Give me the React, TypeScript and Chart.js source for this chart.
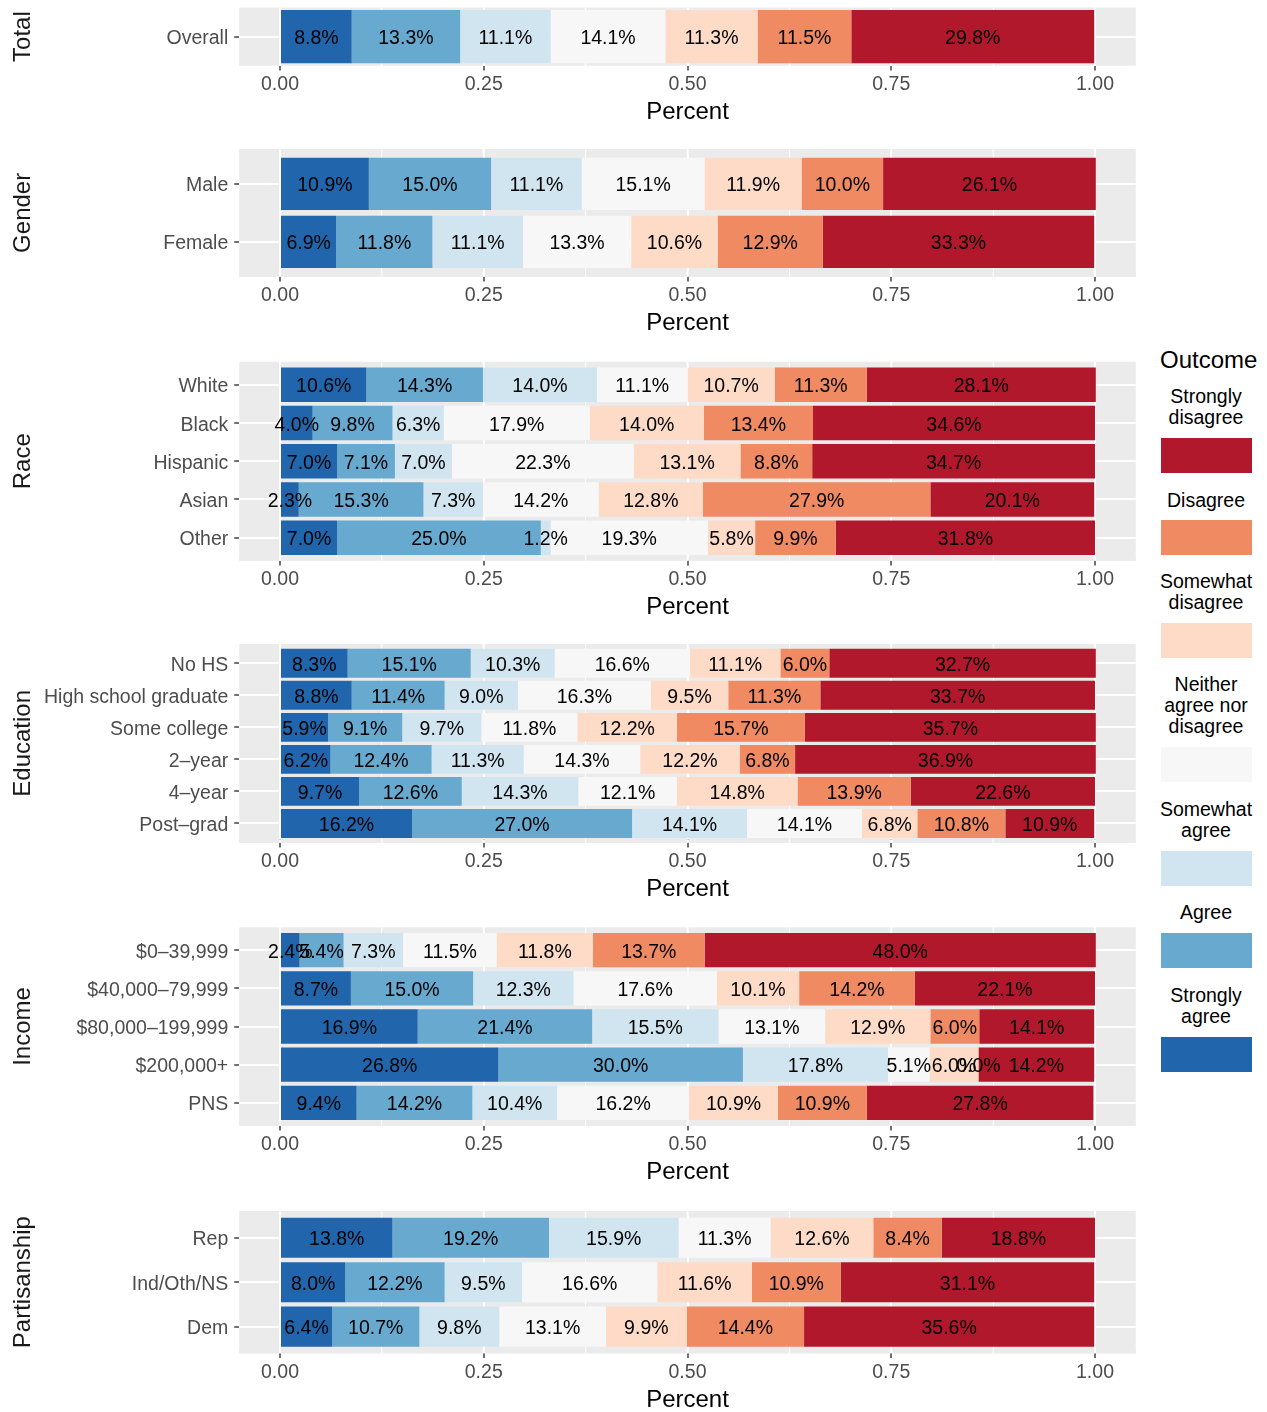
import React, { useEffect, useRef } from 'react';
import { Chart, registerables } from 'chart.js';

Chart.register(...registerables);

const FONT = "'Liberation Sans', Arial, Helvetica, sans-serif";
Chart.defaults.font.family = FONT;

// Outcomes in stacking order (left to right)
const OUTCOMES = ['Strongly agree', 'Agree', 'Somewhat agree', 'Neither agree nor disagree', 'Somewhat disagree', 'Disagree', 'Strongly disagree'];
const OUTCOME_COLORS = ['#2166AC', '#67A9CF', '#D1E5F0', '#F7F7F7', '#FDDBC7', '#EF8A62', '#B2182B'];

// Legend (top to bottom)
const LEGEND_TITLE = 'Outcome';
const legendLines = [['Strongly', 'disagree'], ['Disagree'], ['Somewhat', 'disagree'], ['Neither', 'agree nor', 'disagree'], ['Somewhat', 'agree'], ['Agree'], ['Strongly', 'agree']];
const legendColors = ['#B2182B', '#EF8A62', '#FDDBC7', '#F7F7F7', '#D1E5F0', '#67A9CF', '#2166AC'];

// Data: each row = [SA, A, SomA, Neither, SomD, D, SD] in percent
const totalCategories = ['Overall'];
const totalValues = [[8.8, 13.3, 11.1, 14.1, 11.3, 11.5, 29.8]];

const genderCategories = ['Male', 'Female'];
const genderValues = [
  [10.9, 15.0, 11.1, 15.1, 11.9, 10.0, 26.1],
  [6.9, 11.8, 11.1, 13.3, 10.6, 12.9, 33.3],
];

const raceCategories = ['White', 'Black', 'Hispanic', 'Asian', 'Other'];
const raceValues = [
  [10.6, 14.3, 14.0, 11.1, 10.7, 11.3, 28.1],
  [4.0, 9.8, 6.3, 17.9, 14.0, 13.4, 34.6],
  [7.0, 7.1, 7.0, 22.3, 13.1, 8.8, 34.7],
  [2.3, 15.3, 7.3, 14.2, 12.8, 27.9, 20.1],
  [7.0, 25.0, 1.2, 19.3, 5.8, 9.9, 31.8],
];

const educationCategories = ['No HS', 'High school graduate', 'Some college', '2–year', '4–year', 'Post–grad'];
const educationValues = [
  [8.3, 15.1, 10.3, 16.6, 11.1, 6.0, 32.7],
  [8.8, 11.4, 9.0, 16.3, 9.5, 11.3, 33.7],
  [5.9, 9.1, 9.7, 11.8, 12.2, 15.7, 35.7],
  [6.2, 12.4, 11.3, 14.3, 12.2, 6.8, 36.9],
  [9.7, 12.6, 14.3, 12.1, 14.8, 13.9, 22.6],
  [16.2, 27.0, 14.1, 14.1, 6.8, 10.8, 10.9],
];

const incomeCategories = ['$0–39,999', '$40,000–79,999', '$80,000–199,999', '$200,000+', 'PNS'];
const incomeValues = [
  [2.4, 5.4, 7.3, 11.5, 11.8, 13.7, 48.0],
  [8.7, 15.0, 12.3, 17.6, 10.1, 14.2, 22.1],
  [16.9, 21.4, 15.5, 13.1, 12.9, 6.0, 14.1],
  [26.8, 30.0, 17.8, 5.1, 6.0, 0.0, 14.2],
  [9.4, 14.2, 10.4, 16.2, 10.9, 10.9, 27.8],
];

const partisanCategories = ['Rep', 'Ind/Oth/NS', 'Dem'];
const partisanValues = [
  [13.8, 19.2, 15.9, 11.3, 12.6, 8.4, 18.8],
  [8.0, 12.2, 9.5, 16.6, 11.6, 10.9, 31.1],
  [6.4, 10.7, 9.8, 13.1, 9.9, 14.4, 35.6],
];

const xTickValues = [0, 0.125, 0.25, 0.375, 0.5, 0.625, 0.75, 0.875, 1];
const X_TITLE = 'Percent';

const isMajor = (v: number) => Math.abs(v * 4 - Math.round(v * 4)) < 1e-6;

// Layout of each facet (page pixel geometry)
const PANELS = [
  { name: 'Total', categories: totalCategories, values: totalValues, top: 7.5, bottom: 65.7, e: 0, barPct: 0.916 },
  { name: 'Gender', categories: genderCategories, values: genderValues, top: 149, bottom: 276.7, e: 0.1, barPct: 0.9 },
  { name: 'Race', categories: raceCategories, values: raceValues, top: 361.7, bottom: 560.7, e: 0.1, barPct: 0.9 },
  { name: 'Education', categories: educationCategories, values: educationValues, top: 644, bottom: 842.7, e: 0.1, barPct: 0.9 },
  { name: 'Income', categories: incomeCategories, values: incomeValues, top: 927.3, bottom: 1125.7, e: 0.1, barPct: 0.9 },
  { name: 'Partisanship', categories: partisanCategories, values: partisanValues, top: 1211, bottom: 1353.3, e: 0.1, barPct: 0.9 },
];

const PANEL_LEFT = 239.25;
const PANEL_RIGHT = 1135.75;
const CANVAS_W = 1140;
const TEXT_SHIFT = 2.2;

function Panel({ cfg }: { cfg: any }) {
  const ref = useRef<HTMLCanvasElement | null>(null);
  const n = cfg.categories.length;
  const band = (cfg.bottom - cfg.top) / (n + 2 * cfg.e);
  const ext = cfg.e * band;
  const innerTop = cfg.top + ext;
  const innerBottom = cfg.bottom - ext;
  const canvasTop = Math.floor(innerTop - 22);
  const axisH = ext + 46.8 + 14.4;
  const canvasH = Math.ceil(innerBottom - canvasTop + axisH + 2);
  const padTop = innerTop - canvasTop;
  const padBottom = canvasH - axisH - (innerBottom - canvasTop);

  useEffect(() => {
    if (!ref.current) return;
    const panelPlugin = {
      id: 'panelBg',
      beforeDraw(chart: any) {
        const { ctx, chartArea: a } = chart;
        ctx.save();
        ctx.fillStyle = '#EBEBEB';
        ctx.fillRect(a.left, a.top - ext, a.right - a.left, a.bottom - a.top + 2 * ext);
        ctx.restore();
      },
      beforeDatasetsDraw(chart: any) {
        if (ext <= 0) return;
        const { ctx, chartArea: a } = chart;
        const x = chart.scales.x;
        ctx.save();
        ctx.fillStyle = '#EBEBEB';
        ctx.fillRect(a.left, a.bottom, a.right - a.left, ext);
        ctx.strokeStyle = '#FFFFFF';
        for (const v of xTickValues) {
          const px = x.getPixelForValue(v);
          ctx.lineWidth = isMajor(v) ? 2 : 1;
          ctx.beginPath();
          ctx.moveTo(px, a.top - ext);
          ctx.lineTo(px, a.top);
          ctx.moveTo(px, a.bottom);
          ctx.lineTo(px, a.bottom + ext);
          ctx.stroke();
        }
        ctx.restore();
      },
    };
    const labelPlugin = {
      id: 'segLabels',
      afterDatasetsDraw(chart: any) {
        const ctx = chart.ctx;
        ctx.save();
        ctx.font = `19.5px ${FONT}`;
        ctx.fillStyle = '#000000';
        ctx.textAlign = 'center';
        ctx.textBaseline = 'middle';
        chart.data.datasets.forEach((_ds: any, k: number) => {
          const meta = chart.getDatasetMeta(k);
          meta.data.forEach((el: any, i: number) => {
            const p = el.getProps(['x', 'y', 'base'], true);
            ctx.fillText(cfg.values[i][k].toFixed(1) + '%', (p.x + p.base) / 2, p.y + TEXT_SHIFT);
          });
        });
        ctx.restore();
      },
    };

    const chart = new Chart(ref.current, {
      type: 'bar',
      data: {
        labels: cfg.categories,
        datasets: OUTCOMES.map((o, k) => ({
          label: o,
          data: cfg.values.map((r: number[]) => r[k] / 100),
          backgroundColor: OUTCOME_COLORS[k],
          borderWidth: 0,
          barPercentage: cfg.barPct,
          categoryPercentage: 1,
        })),
      },
      options: {
        indexAxis: 'y',
        animation: false,
        responsive: false,
        devicePixelRatio: 1,
        layout: { padding: { top: padTop, bottom: padBottom, left: 0, right: CANVAS_W - PANEL_RIGHT } },
        plugins: { legend: { display: false }, tooltip: { enabled: false } },
        scales: {
          x: {
            type: 'linear',
            stacked: true,
            min: -0.05,
            max: 1.05,
            afterBuildTicks: (s: any) => { s.ticks = xTickValues.map((v) => ({ value: v })); },
            afterFit: (s: any) => { s.height = axisH; },
            ticks: {
              autoSkip: false,
              maxRotation: 0,
              minRotation: 0,
              padding: 2.5,
              color: '#4D4D4D',
              font: { size: 19.5 },
              callback: (v: any) => (isMajor(Number(v)) ? Number(v).toFixed(2) : ''),
            },
            grid: {
              color: '#FFFFFF',
              lineWidth: (c: any) => (c.tick && isMajor(c.tick.value) ? 2 : 1),
              tickLength: ext + 4.8,
              tickColor: (c: any) => (c.tick && isMajor(c.tick.value) ? '#333333' : 'rgba(0,0,0,0)'),
              tickWidth: 1.4,
            },
            border: { display: false },
            title: { display: true, text: X_TITLE, color: '#000000', font: { size: 24 }, padding: 0 },
          },
          y: {
            type: 'category',
            stacked: true,
            offset: true,
            afterFit: (s: any) => { s.width = PANEL_LEFT; },
            ticks: { autoSkip: false, padding: 6, labelOffset: TEXT_SHIFT, color: '#4D4D4D', font: { size: 19.5 } },
            grid: { offset: false, color: '#FFFFFF', lineWidth: 2, tickLength: 5, tickColor: '#333333', tickWidth: 1.4 },
            border: { display: false },
            title: { display: true, text: cfg.name, color: '#1A1A1A', font: { size: 24 }, padding: { top: 8.8, bottom: 0 } },
          },
        },
      } as any,
      plugins: [panelPlugin, labelPlugin],
    });
    return () => chart.destroy();
  }, []);

  return (
    <canvas
      ref={ref}
      width={CANVAS_W}
      height={canvasH}
      style={{ position: 'absolute', left: 0, top: canvasTop, width: CANVAS_W, height: canvasH }}
    />
  );
}

const legendKeyTops = [437.7, 520, 622.7, 746.7, 850.7, 932.7, 1036.7];

function Legend() {
  const lineH = 21;
  const items: any[] = [];
  legendLines.forEach((lines, i) => {
    const keyTop = legendKeyTops[i];
    const lastCenter = keyTop - 20;
    lines.forEach((t, j) => {
      const c = lastCenter - (lines.length - 1 - j) * lineH;
      items.push(
        <div key={`l${i}-${j}`} style={{ position: 'absolute', left: 1146, width: 120, top: c - lineH / 2, height: lineH, lineHeight: `${lineH}px`, fontSize: 19.5, textAlign: 'center', color: '#000', whiteSpace: 'nowrap' }}>{t}</div>
      );
    });
    items.push(
      <div key={`k${i}`} style={{ position: 'absolute', left: 1161, top: keyTop, width: 90.7, height: 35, background: legendColors[i] }} />
    );
  });
  return (
    <>
      <div style={{ position: 'absolute', left: 1160, top: 359.5 - 14, height: 28, lineHeight: '28px', fontSize: 24, color: '#000', whiteSpace: 'nowrap' }}>{LEGEND_TITLE}</div>
      {items}
    </>
  );
}

export default function App() {
  return (
    <div style={{ position: 'absolute', left: 0, top: 0, width: 1267, height: 1412, background: '#FFFFFF', fontFamily: FONT, overflow: 'hidden' }}>
      {PANELS.map((p) => <Panel key={p.name} cfg={p} />)}
      <Legend />
    </div>
  );
}
